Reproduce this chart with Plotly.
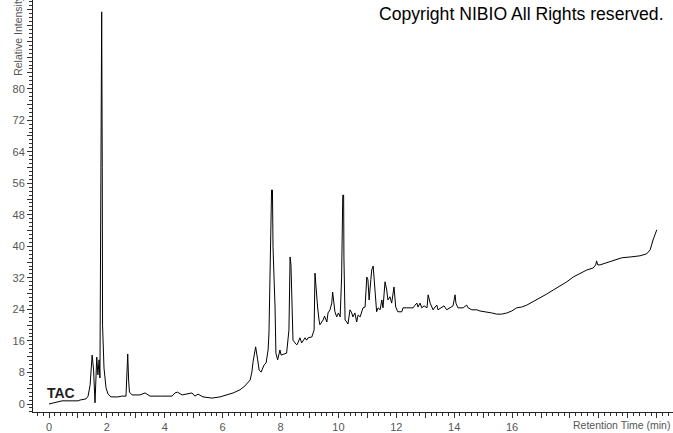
import plotly.graph_objects as go

# Retention time (min) and relative intensity
rt = [0.00, 0.31, 0.45, 1.00, 1.07, 1.28, 1.35, 1.42, 1.49, 1.54, 1.59, 1.62, 1.65, 1.69, 1.73, 1.76,
      1.79, 1.81, 1.82, 1.84, 1.85, 1.90, 1.97, 2.04, 2.14, 2.38, 2.52, 2.66, 2.70, 2.72, 2.75, 2.78,
      2.87, 3.14, 3.32, 3.49, 3.84, 4.25, 4.35, 4.44, 4.60, 4.77, 4.94, 5.04, 5.15, 5.32, 5.63, 5.91,
      6.15, 6.36, 6.60, 6.77, 6.95, 7.01, 7.05, 7.14, 7.21, 7.26, 7.33, 7.43, 7.50, 7.57, 7.60, 7.64,
      7.69, 7.72, 7.74, 7.81, 7.84, 7.90, 7.98, 8.02, 8.12, 8.21, 8.29, 8.33, 8.36, 8.40, 8.43, 8.50,
      8.56, 8.60, 8.67, 8.73, 8.78, 8.85, 8.90, 8.95, 9.08, 9.16, 9.19, 9.23, 9.28, 9.33, 9.36, 9.47,
      9.52, 9.60, 9.64, 9.71, 9.77, 9.80, 9.85, 9.88, 9.94, 10.00, 10.06, 10.11, 10.15, 10.18, 10.19,
      10.23, 10.29, 10.33, 10.40, 10.46, 10.50, 10.57, 10.63, 10.68, 10.75, 10.81, 10.85, 10.92, 10.98,
      11.02, 11.06, 11.12, 11.15, 11.20, 11.23, 11.29, 11.32, 11.37, 11.44, 11.50, 11.54, 11.61, 11.67,
      11.71, 11.78, 11.84, 11.89, 11.92, 11.98, 12.05, 12.19, 12.23, 12.36, 12.47, 12.58, 12.65, 12.71,
      12.75, 12.82, 12.88, 12.96, 13.06, 13.10, 13.17, 13.22, 13.27, 13.34, 13.40, 13.44, 13.57, 13.65,
      13.74, 13.86, 13.96, 14.03, 14.06, 14.13, 14.31, 14.43, 14.48, 14.61, 14.78, 14.89, 15.12, 15.30,
      15.47, 15.64, 15.82, 15.99, 16.16, 16.33, 16.51, 16.72, 16.97, 17.20, 17.42, 17.66, 17.89, 18.11,
      18.35, 18.58, 18.80, 18.89, 18.92, 18.96, 19.04, 19.27, 19.49, 19.79, 20.08, 20.42, 20.65, 20.77,
      20.87, 21.00]
intensity = [0.0, 0.5, 0.8, 0.8, 1.0, 1.3, 2.0, 4.8, 12.4, 8.6, 0.3, 6.1, 11.9, 7.4, 11.2, 6.6,
             43.4, 86.8, 99.5, 60.0, 20.0, 9.1, 4.1, 2.5, 1.8, 1.8, 2.0, 2.0, 8.6, 12.7, 6.1, 3.0,
             2.3, 2.3, 2.8, 2.0, 2.0, 2.0, 2.8, 3.0, 2.3, 2.5, 2.8, 2.0, 2.5, 1.8, 1.5, 1.8,
             2.3, 2.8, 3.6, 4.6, 6.1, 8.1, 10.7, 14.5, 11.2, 8.6, 8.1, 9.9, 10.4, 13.7, 18.0, 32.2,
             54.3, 54.3, 39.8, 24.6, 12.9, 11.2, 13.7, 12.4, 12.7, 12.9, 18.8, 37.3, 35.3, 23.1, 16.2, 15.5,
             15.0, 15.5, 16.8, 15.5, 16.2, 16.8, 16.2, 16.8, 17.0, 18.8, 33.2, 28.9, 24.6, 21.3, 20.1, 21.3,
             22.3, 20.8, 23.1, 23.9, 25.6, 28.4, 25.9, 23.4, 22.1, 23.1, 22.1, 32.2, 53.0, 53.0, 37.1,
             21.3, 20.8, 20.3, 23.9, 23.1, 22.1, 23.1, 20.8, 22.6, 22.1, 23.4, 24.4, 24.6, 32.2,
             31.5, 26.4, 31.5, 34.0, 35.0, 32.2, 24.6, 23.4, 24.4, 23.9, 26.4, 24.4, 31.0, 28.9,
             26.4, 27.2, 25.6, 28.9, 29.7, 24.6, 23.4, 23.4, 24.4, 24.4, 24.4, 24.4, 25.1, 25.6,
             24.6, 25.6, 24.4, 24.9, 24.4, 27.7, 25.6, 24.6, 23.9, 24.6, 25.1, 23.9, 24.4, 24.9,
             23.9, 24.4, 24.9, 27.7, 25.6, 24.4, 24.4, 25.1, 24.4, 23.9, 23.9, 23.6, 23.4, 23.1,
             22.8, 22.8, 23.1, 23.6, 24.4, 24.6, 25.1, 25.9, 26.9, 27.9, 28.9, 29.9, 31.0, 32.2,
             33.2, 34.0, 34.5, 35.3, 36.3, 35.3, 35.3, 35.8, 36.3, 37.1, 37.3, 37.6, 38.1, 39.1,
             41.6, 44.2]

x_tick_vals = list(range(0, 22))
x_tick_text = [str(v) if (v % 2 == 0 and v <= 16) else "" for v in x_tick_vals]
y_tick_vals = list(range(0, 101, 4))
y_tick_text = [str(v) if (v % 8 == 0 and v <= 80) else "" for v in y_tick_vals]

x_title = "Retention Time (min)"
y_title = "Relative Intensity"
trace_label = "TAC"
copyright_text = "Copyright NIBIO All Rights reserved."

font_family = "Liberation Sans, Arial, sans-serif"

fig = go.Figure()
fig.add_trace(go.Scatter(x=rt, y=intensity, mode="lines",
                         line=dict(color="black", width=1), hoverinfo="skip",
                         showlegend=False))

fig.update_layout(
    width=673, height=433,
    margin=dict(l=33, r=0, t=0, b=21, pad=0),
    paper_bgcolor="white", plot_bgcolor="white",
    font=dict(family=font_family, size=11, color="#555555"),
    xaxis=dict(range=[-0.553, 21.56], showgrid=False, zeroline=False,
               showline=True, linecolor="#222222", linewidth=1,
               tickmode="array", tickvals=x_tick_vals, ticktext=x_tick_text,
               ticks="outside", ticklen=5, tickcolor="#333333", tickwidth=1,
               minor=dict(dtick=0.2, tick0=0, ticks="outside", ticklen=3,
                          tickcolor="#333333", tickwidth=1, showgrid=False),
               tickfont=dict(size=11, color="#555555")),
    yaxis=dict(range=[-2.03, 102.5], showgrid=False, zeroline=False,
               showline=True, linecolor="#222222", linewidth=1,
               tickmode="array", tickvals=y_tick_vals, ticktext=y_tick_text,
               ticks="outside", ticklen=5, tickcolor="#333333", tickwidth=1,
               minor=dict(dtick=1, tick0=0, ticks="outside", ticklen=3,
                          tickcolor="#333333", tickwidth=1, showgrid=False),
               tickfont=dict(size=11, color="#555555")),
    annotations=[
        dict(text=copyright_text, xref="paper", yref="paper", x=0.989, y=0.966,
             xanchor="right", yanchor="middle", showarrow=False,
             font=dict(size=17.6, color="black", family=font_family)),
        dict(text=x_title, xref="paper", yref="paper", x=0.998, y=-0.0316,
             xanchor="right", yanchor="middle", showarrow=False,
             font=dict(size=10.5, color="#555555", family=font_family)),
        dict(text=y_title, xref="paper", yref="paper", x=-0.0227, y=0.811,
             xanchor="center", yanchor="bottom", textangle=-90, showarrow=False,
             font=dict(size=10.5, color="#555555", family=font_family)),
        dict(text="<b>" + trace_label + "</b>", xref="x", yref="y", x=0.40, y=2.9,
             xanchor="center", yanchor="middle", showarrow=False,
             font=dict(size=14, color="#222222", family=font_family)),
    ],
)

fig.write_html("out.html", config={"displayModeBar": False, "staticPlot": True},
               post_script="document.body.style.margin='0';document.body.style.overflow='hidden';")
